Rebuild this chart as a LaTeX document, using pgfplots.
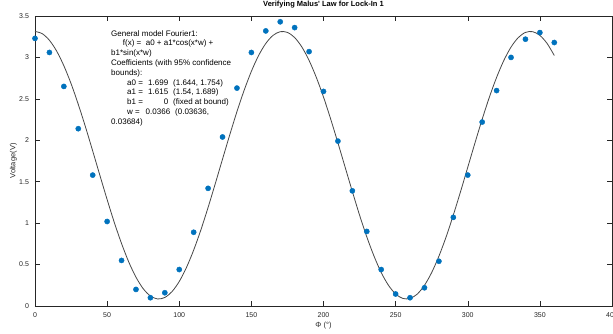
\documentclass[border=0pt]{standalone}
\usepackage{pgfplots}
\pgfplotsset{compat=1.18}
\usepackage{fontspec}
\setmainfont{Liberation Sans}
\definecolor{mblue}{rgb}{0,0.447,0.741}
\definecolor{axgray}{rgb}{0.15,0.15,0.15}
\begin{document}
\begin{tikzpicture}
\begin{axis}[
  at={(0pt,0pt)}, anchor=south west,
  scale only axis, width=577pt, height=290pt,
  xmin=0, xmax=400, ymin=0, ymax=3.5,
  xtick={0,50,100,150,200,250,300,350,400},
  ytick={0,0.5,1,1.5,2,2.5,3,3.5},
  yticklabels={0,0.5,1,1.5,2,2.5,3,3.5},
  tick align=inside, major tick length=5pt,
  axis line style={axgray, line width=0.5pt},
  tick style={axgray, line width=0.5pt},
  /pgf/number format/assume math mode=true,
  ticklabel style={font=\fontsize{7}{8}\selectfont, text=axgray},
  xticklabel style={yshift=-3.5pt},
  yticklabel style={xshift=-2.5pt},
  title={Verifying Malus\textquotesingle\ Law for Lock-In 1},
  title style={at={(axis description cs:0.5,1)}, anchor=base, inner sep=0pt, yshift=3.7pt, font=\bfseries\fontsize{7.5}{9}\selectfont, text=black},
  xlabel={Φ (°)},
  xlabel style={at={(axis description cs:0.5,0)}, anchor=center, yshift=-19.5pt, font=\fontsize{7.5}{9}\selectfont, text=axgray},
  clip=false,
]
\addplot[only marks, mark=*, mark size=2.6pt, mark options={fill=mblue, draw=mblue}] coordinates {
(0,3.23) (10,3.06) (20,2.65) (30,2.14) (40,1.58) (50,1.02) (60,0.55) (70,0.20) (80,0.10) (90,0.16)
(100,0.44) (110,0.89) (120,1.42) (130,2.04) (140,2.63) (150,3.06) (160,3.32) (170,3.43) (180,3.36) (190,3.07)
(200,2.59) (210,1.99) (220,1.39) (230,0.90) (240,0.44) (250,0.145) (260,0.10) (270,0.22) (280,0.54) (290,1.07)
(300,1.58) (310,2.22) (320,2.60) (330,3.00) (340,3.22) (350,3.30) (360,3.18)
};
\addplot[no marks, smooth, black!72, line width=0.8pt] coordinates {
(0,3.314) (5,3.287) (10,3.207) (15,3.077) (20,2.900) (25,2.684) (30,2.434) (35,2.161) (40,1.871) (45,1.576)
(50,1.285) (55,1.007) (60,0.754) (65,0.531) (70,0.348) (75,0.209) (80,0.121) (85,0.085) (90,0.103) (95,0.174)
(100,0.296) (105,0.465) (110,0.675) (115,0.919) (120,1.190) (125,1.478) (130,1.773) (135,2.065) (140,2.346) (145,2.604)
(150,2.832) (155,3.023) (160,3.169) (165,3.266) (170,3.311) (175,3.302) (180,3.240) (185,3.126) (190,2.964) (195,2.760)
(200,2.522) (205,2.255) (210,1.969) (215,1.675) (220,1.382) (225,1.097) (230,0.835) (235,0.603) (240,0.404) (245,0.251)
(250,0.145) (255,0.091) (260,0.091) (265,0.144) (270,0.250) (275,0.404) (280,0.601) (285,0.834) (290,1.098) (295,1.380)
(300,1.674) (305,1.968) (310,2.254) (315,2.521) (320,2.759) (325,2.963) (330,3.125) (335,3.239) (340,3.302) (345,3.311)
(350,3.266) (355,3.169) (360,3.023)
};
\node[rotate=90, anchor=center, inner sep=0pt, font=\fontsize{7.5}{9}\selectfont, text=axgray] at ([xshift=-21.5pt]rel axis cs:0,0.5) {Voltage(V)};
\node[anchor=north west, inner sep=0pt, align=left, font=\fontsize{8}{9.8}\selectfont, text=black] at (axis cs:52.7,3.33) {%
General model Fourier1:\\
\hspace*{11.7pt}f(x) =\ \ a0 + a1*cos(x*w) +\\
b1*sin(x*w)\\
Coefficients (with 95\% confidence\\
bounds):\\
\hspace*{16pt}\makebox[22pt][l]{a0 =}\makebox[19pt][r]{1.699}\hspace{5pt}(1.644, 1.754)\\
\hspace*{16pt}\makebox[22pt][l]{a1 =}\makebox[19pt][r]{1.615}\hspace{5pt}(1.54, 1.689)\\
\hspace*{16pt}\makebox[22pt][l]{b1 =}\makebox[19pt][r]{0}\hspace{5pt}(fixed at bound)\\
\hspace*{16pt}\makebox[22pt][l]{w =}\makebox[21pt][r]{0.0366}\hspace{5pt}(0.03636,\\
0.03684)};
\end{axis}
\pgfresetboundingbox
\path (-35pt,-27pt) rectangle (578pt,306pt);
\end{tikzpicture}
\end{document}
